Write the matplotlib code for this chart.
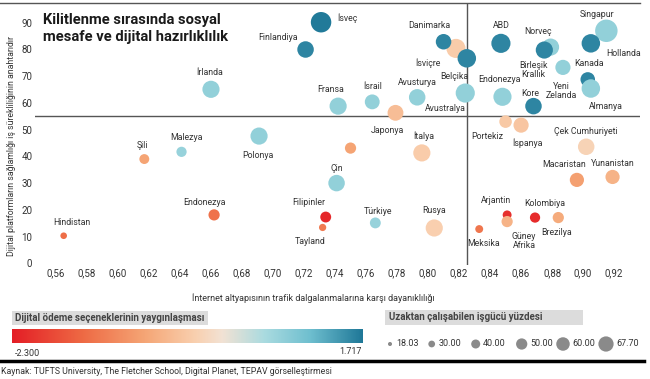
import numpy as np
import matplotlib.pyplot as plt
from matplotlib.colors import LinearSegmentedColormap, Normalize

plt.rcParams['font.family'] = ['Liberation Sans Narrow', 'Roboto', 'DejaVu Sans']

W, H = 650, 379
DPI = 100

# baloncuklar (cizim sirasi = ustuste binme sirasi)
countries = ["Hindistan", "Şili", "Malezya", "Polonya", "Endonezya", "Filipinler",
             "Tayland", "Çin", "Türkiye", "Rusya", "Japonya", "İtalya",
             "Portekiz", "İspanya", "Çek Cumhuriyeti", "Macaristan", "Yunanistan",
             "Arjantin", "Güney Afrika", "Meksika", "Kolombiya", "Brezilya",
             "İsveç", "Finlandiya", "İrlanda", "Fransa", "İsrail", "Avusturya",
             "(turuncu)", "Belçika", "Danimarka", "İsviçre", "Avustralya",
             "Endonezya (2)", "ABD", "Birleşik Krallık", "Norveç", "Yeni Zelanda",
             "Kore", "Singapur", "Hollanda", "Kanada", "Almanya"]
resilience = [0.565, 0.617, 0.641, 0.691, 0.662, 0.734,
              0.732, 0.741, 0.766, 0.804, 0.750, 0.796,
              0.850, 0.860, 0.902, 0.896, 0.919,
              0.851, 0.851, 0.833, 0.869, 0.884,
              0.731, 0.721, 0.660, 0.742, 0.764, 0.793,
              0.779, 0.818, 0.810, 0.825, 0.824,
              0.848, 0.847, 0.879, 0.875, 0.887,
              0.868, 0.915, 0.905, 0.903, 0.905]
platform = [10.3, 39.0, 41.7, 47.6, 18.1, 17.3,
            13.4, 30.0, 15.1, 13.2, 43.1, 41.3,
            53.0, 51.7, 43.6, 31.2, 32.3,
            18.1, 15.6, 12.8, 17.1, 17.1,
            90.2, 80.0, 65.1, 58.8, 60.4, 62.1,
            56.3, 80.4, 82.9, 76.7, 63.7,
            62.3, 82.3, 80.9, 79.8, 73.3,
            58.8, 87.0, 82.3, 68.8, 65.4]
remote = [20, 30, 31, 52, 34, 33,
          22, 50, 33, 52, 34, 52,
          38, 46, 50, 43, 43,
          27, 34, 24, 31, 34,
          62, 50, 52, 52, 45, 50,
          48, 58, 47, 56, 58,
          55, 58, 52, 52, 46,
          50, 68, 56, 44, 56]
payment = [-1.45, -0.8, 0.75, 0.8, -1.4, -2.2,
           -1.3, 0.8, 0.75, -0.2, -0.8, -0.25,
           -0.3, -0.35, -0.15, -0.85, -0.6,
           -2.1, -0.6, -1.35, -2.15, -0.7,
           1.7, 1.6, 0.8, 0.8, 0.8, 0.8,
           -0.45, -0.25, 1.6, 1.6, 0.8,
           0.8, 1.6, 0.8, 1.6, 0.8,
           1.6, 0.8, 1.6, 1.6, 0.8]

# etiketler
label_texts = ["Hindistan", "Şili", "Malezya", "Polonya", "Endonezya", "Filipinler",
               "Tayland", "Çin", "Türkiye", "Rusya", "Japonya", "İtalya", "Portekiz",
               "İspanya", "Çek Cumhuriyeti", "Macaristan", "Yunanistan", "Arjantin",
               "Kolombiya", "Meksika", "Güney\nAfrika", "Brezilya",
               "Finlandiya", "İsveç", "İrlanda", "Fransa", "İsrail", "Avusturya",
               "Danimarka", "İsviçre", "Belçika", "Avustralya", "ABD", "Endonezya",
               "Norveç", "Birleşik\nKrallık", "Kore", "Yeni\nZelanda", "Singapur",
               "Hollanda", "Kanada", "Almanya"]
label_x = [0.570, 0.616, 0.644, 0.690, 0.656, 0.723,
           0.724, 0.741, 0.768, 0.804, 0.7735, 0.797, 0.838,
           0.864, 0.902, 0.888, 0.919, 0.844,
           0.875, 0.836, 0.862, 0.883,
           0.703, 0.748, 0.659, 0.737, 0.764, 0.793,
           0.801, 0.800, 0.817, 0.811, 0.847, 0.846,
           0.871, 0.868, 0.866, 0.886, 0.909,
           0.926, 0.904, 0.915]
label_y = [15.4, 44.2, 47.2, 40.5, 22.9, 22.6,
           8.0, 35.3, 19.3, 19.7, 49.5, 47.6, 47.6,
           45.1, 49.2, 36.8, 37.4, 23.4,
           22.2, 7.5, 8.3, 11.6,
           84.6, 91.7, 71.5, 65.2, 66.3, 67.8,
           88.8, 74.9, 70.0, 58.0, 89.1, 68.6,
           86.9, 72.3, 63.7, 64.4, 93.2,
           78.6, 74.6, 58.8]

x_ticks = [0.56, 0.58, 0.60, 0.62, 0.64, 0.66, 0.68, 0.70, 0.72, 0.74,
           0.76, 0.78, 0.80, 0.82, 0.84, 0.86, 0.88, 0.90, 0.92]
y_ticks = [0, 10, 20, 30, 40, 50, 60, 70, 80, 90]
pay_min, pay_max = -2.300, 1.717
size_legend = [18.03, 30.00, 40.00, 50.00, 60.00, 67.70]

cmap = LinearSegmentedColormap.from_list("odeme", [
    (0.00, "#e41e26"), (0.20, "#ee6a44"), (0.38, "#f5a676"), (0.52, "#f9cfae"),
    (0.60, "#f2e2d4"), (0.72, "#aadbe0"), (0.85, "#6fbfcf"), (1.00, "#1f7898")])
norm = Normalize(pay_min, pay_max)


def size_pt2(v, k=0.33):
    # cap (px) -> nokta^2
    d = k * np.asarray(v) * 72 / DPI
    return d ** 2


def px_box(x0, y0, x1, y1):
    # piksel kutusu -> figure koordinatlari
    return [x0 / W, 1 - y1 / H, (x1 - x0) / W, (y1 - y0) / H]


fig = plt.figure(figsize=(W / DPI, H / DPI), dpi=DPI)
ax = fig.add_axes(px_box(35, 3, 640, 265))

ax.scatter(resilience, platform, s=size_pt2(remote), c=payment, cmap=cmap, norm=norm,
           edgecolors="none", zorder=3)
for t, lx, ly in zip(label_texts, label_x, label_y):
    ax.text(lx, ly, t, ha="center", va="center", fontsize=6.3, color="#333333",
            linespacing=0.95, zorder=4)

ax.axvline(0.825, color="#555555", lw=1, zorder=2)
ax.axhline(55, color="#555555", lw=1, zorder=2)

ax.set_xlim(0.5465, 0.9367)
ax.set_ylim(-0.65, 97.4)
ax.set_xticks(x_ticks)
ax.set_xticklabels([f"{t:.2f}".replace(".", ",") for t in x_ticks])
ax.set_yticks(y_ticks)
ax.tick_params(length=0, labelsize=7, colors="#333333", pad=2)
for sp in ax.spines.values():
    sp.set_visible(False)

ax.text(0.0125, 0.962, "Kilitlenme sırasında sosyal\nmesafe ve dijital hazırlıklılık",
        transform=ax.transAxes, ha="left", va="top", fontsize=10.6, fontweight="bold",
        color="#1a1a1a", linespacing=1.3)

fig.text(12 / W, 1 - 146 / H, "Dijital platformların sağlamlığı iş sürekliliğinin anahtarıdır",
         rotation=90, ha="center", va="center", fontsize=6.3, color="#333333")
fig.text(313 / W, 1 - 298 / H, "İnternet altyapısının trafik dalgalanmalarına karşı dayanıklılığı",
         ha="center", va="center", fontsize=6.5, color="#333333")

# ust cizgi ve alt kalin cizgi
fig.add_artist(plt.Line2D([0, 640 / W], [1 - 3 / H, 1 - 3 / H], color="#555555", lw=1))
fig.add_artist(plt.Line2D([0, 644 / W], [1 - 361 / H, 1 - 361 / H], color="black", lw=2.5))

# renk lejanti
fig.add_artist(plt.Rectangle((12 / W, 1 - 325 / H), 196 / W, 14 / H,
                             transform=fig.transFigure, color="#dcdcdc", lw=0))
fig.text(15 / W, 1 - 318 / H, "Dijital ödeme seçeneklerinin yaygınlaşması",
         ha="left", va="center", fontsize=7, fontweight="bold", color="#444444")
cax = fig.add_axes(px_box(12, 329, 363, 343))
cax.imshow(np.linspace(pay_min, pay_max, 256)[None, :], aspect="auto", cmap=cmap, norm=norm)
cax.set_axis_off()
fig.text(15 / W, 1 - 353 / H, f"{pay_min:.3f}", ha="left", va="center",
         fontsize=6.5, color="#333333")
fig.text(362 / W, 1 - 351 / H, f"{pay_max:.3f}", ha="right", va="center",
         fontsize=6.5, color="#333333")

# boyut lejanti
fig.add_artist(plt.Rectangle((385 / W, 1 - 325 / H), 198 / W, 15 / H,
                             transform=fig.transFigure, color="#dcdcdc", lw=0))
fig.text(389 / W, 1 - 317.5 / H, "Uzaktan çalışabilen işgücü yüzdesi",
         ha="left", va="center", fontsize=7, fontweight="bold", color="#444444")
lax = fig.add_axes(px_box(380, 334, 645, 354))
lax.set_xlim(380, 645)
lax.set_ylim(0, 1)
leg_x = [390, 431.7, 475.7, 521.7, 563, 606]
lax.scatter(leg_x, [0.5] * len(leg_x), s=size_pt2(size_legend, k=0.225),
            color="#8a8a8a", edgecolors="none")
for lx, v, d in zip(leg_x, size_legend, [4, 4.5, 5, 7, 7.5, 8.5]):
    lax.text(lx + d + 2, 0.5, f"{v:.2f}", ha="left", va="center", fontsize=6.5,
             color="#333333")
lax.set_axis_off()

fig.text(1 / W, 1 - 372 / H,
         "Kaynak: TUFTS University, The Fletcher School, Digital Planet, TEPAV görselleştirmesi",
         ha="left", va="center", fontsize=6.3, color="#333333")

fig.savefig("out.png", dpi=DPI)
